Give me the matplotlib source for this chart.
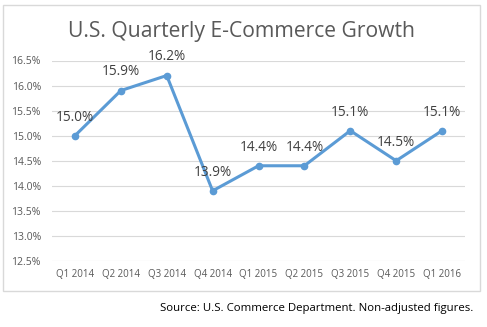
import matplotlib
matplotlib.use("Agg")
import matplotlib.pyplot as plt
from matplotlib.patches import Rectangle

quarters = ["Q1 2014", "Q2 2014", "Q3 2014", "Q4 2014", "Q1 2015",
            "Q2 2015", "Q3 2015", "Q4 2015", "Q1 2016"]
growth = [15.0, 15.9, 16.2, 13.9, 14.4, 14.4, 15.1, 14.5, 15.1]
yticks = [12.5, 13.0, 13.5, 14.0, 14.5, 15.0, 15.5, 16.0, 16.5]

plt.rcParams['font.family'] = ['Open Sans', 'DejaVu Sans']

fig = plt.figure(figsize=(4.87, 3.27), dpi=100)
fig.patches.append(Rectangle((3/487, 1-291/327), 477/487, 286/327,
                             transform=fig.transFigure, fill=False,
                             edgecolor='#d9d9d9', linewidth=1))
ax = fig.add_axes([52/487, 1-261/327, 413/487, 200.5/327])

x = list(range(len(quarters)))
ax.plot(x, growth, color='#5B9BD5', linewidth=2.2, marker='o',
        markersize=4.5, zorder=3)
for xi, v in zip(x, growth):
    ax.annotate(f"{v:.1f}%", (xi, v), xytext=(0, 8), textcoords='offset points',
                ha='center', va='bottom', fontsize=9.8, color='#404040')

ax.set_xlim(-0.5, len(quarters) - 0.5)
ax.set_ylim(12.5, 16.5)
ax.set_yticks(yticks)
ax.set_yticklabels([f"{t:.1f}%" for t in yticks])
ax.set_xticks(x)
ax.set_xticklabels(quarters)
ax.tick_params(axis='y', length=0, labelsize=7.5, labelcolor='#595959', pad=8)
ax.tick_params(axis='x', length=0, labelsize=7, labelcolor='#595959', pad=6)
ax.grid(axis='y', color='#d9d9d9', linewidth=0.8)
ax.set_axisbelow(True)
for s in ax.spines.values():
    s.set_visible(False)

fig.text(241/487, 1-32/327, "U.S. Quarterly E-Commerce Growth", ha='center',
         va='center', fontsize=15.2, color='#595959')
fig.text(473/487, 1-309/327, "Source: U.S. Commerce Department. Non-adjusted figures.",
         ha='right', va='center', fontsize=8.2, color='#000000')

fig.savefig("out.png", dpi=100)
